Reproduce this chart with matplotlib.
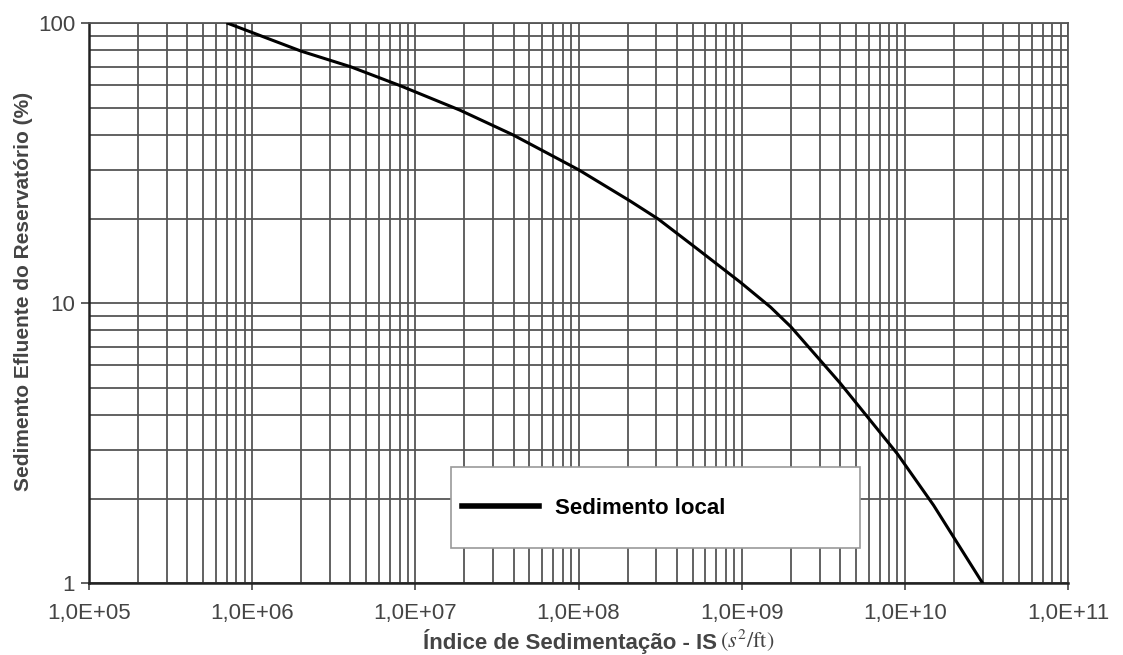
import numpy as np
import matplotlib
matplotlib.use("Agg")
import matplotlib.pyplot as plt
from matplotlib.ticker import LogLocator, FixedLocator, FuncFormatter, NullFormatter
from matplotlib.legend_handler import HandlerLine2D

# curve (IS in s2/ft, effluent sediment in %)
indice_is = [7.1e5, 2.0e6, 3.0e6, 4.0e6, 8.0e6, 1.87e7, 3.95e7, 1.0e8,
             2.07e8, 3.08e8, 5.3e8, 9.8e8, 1.5e9, 2.0e9, 4.0e9, 9.0e9,
             1.5e10, 3.0e10]
sedimento = [100, 79.5, 73.8, 70, 60, 49, 40, 30,
             23.2, 20, 15.7, 11.9, 9.7, 8.25, 5.2, 2.9,
             1.9, 1.0]
serie_label = "Sedimento local"

x_ticks = [1e5, 1e6, 1e7, 1e8, 1e9, 1e10, 1e11]
y_ticks = [1, 10, 100]


class LowerLine(HandlerLine2D):
    # tall legend row: put the handle line level with the label text
    def create_artists(self, legend, orig_handle, xdescent, ydescent,
                       width, height, fontsize, trans):
        arts = super().create_artists(legend, orig_handle, xdescent, ydescent,
                                      width, height, fontsize, trans)
        for a in arts:
            a.set_ydata(np.asarray(a.get_ydata()) - 0.45 * fontsize)
            a.set_linewidth(4)
        return arts


plt.rcParams['font.family'] = ['Liberation Sans', 'DejaVu Sans']

fig = plt.figure(figsize=(11.23, 6.55), dpi=100)
ax = fig.add_axes([0.0793, 0.1095, 0.8717, 0.8549])

line, = ax.plot(indice_is, sedimento, color='black', lw=2.2, label=serie_label, zorder=3)

ax.set_xscale('log')
ax.set_yscale('log')
ax.set_xlim(1e5, 1e11)
ax.set_ylim(1, 100)

ax.xaxis.set_major_locator(FixedLocator(x_ticks))
ax.yaxis.set_major_locator(FixedLocator(y_ticks))
ax.xaxis.set_minor_locator(LogLocator(base=10, subs=np.arange(2, 10), numticks=100))
ax.yaxis.set_minor_locator(LogLocator(base=10, subs=np.arange(2, 10), numticks=100))
ax.xaxis.set_minor_formatter(NullFormatter())
ax.yaxis.set_minor_formatter(NullFormatter())
ax.xaxis.set_major_formatter(FuncFormatter(lambda v, p: "1,0E+%02d" % round(np.log10(v))))
ax.yaxis.set_major_formatter(FuncFormatter(lambda v, p: "%d" % round(v)))

ax.grid(True, which='both', color='#555555', lw=1.3, zorder=1)
ax.set_axisbelow(True)
for s in ['top', 'right']:
    ax.spines[s].set_color('#555555')
    ax.spines[s].set_linewidth(1.3)
for s in ['left', 'bottom']:
    ax.spines[s].set_color('#222222')
    ax.spines[s].set_linewidth(1.8)

ax.tick_params(axis='x', which='major', length=5, width=1.2, pad=9,
               labelsize=16, labelcolor='#444444', color='#444444')
ax.tick_params(axis='y', which='major', length=6, width=1.2, pad=4,
               labelsize=16, labelcolor='#444444', color='#444444')
ax.tick_params(which='minor', length=0)

ax.set_ylabel("Sedimento Efluente do Reservatório (%)", fontsize=15,
              fontweight='bold', color='#444444')
ax.yaxis.set_label_coords(-0.057, 0.522)

fig.text(717 / 1123, 1 - 641 / 655, "Índice de Sedimentação - IS", ha='right', va='center',
         fontsize=16, fontweight='bold', color='#444444')
fig.text(720 / 1123, 1 - 640 / 655, r"$(s^2/\mathrm{ft})$", ha='left', va='center',
         fontsize=16, color='#444444', math_fontfamily='stix')

leg = ax.legend(loc='upper left', bbox_to_anchor=(0.370, 0.0595, 0.4175, 0.148),
                mode='expand', borderaxespad=0, fancybox=False, framealpha=1,
                edgecolor='#999999', handlelength=3.45, handleheight=3.7,
                borderpad=0.5, handletextpad=0.7, prop={'size': 16, 'weight': 'bold'},
                handler_map={line: LowerLine()})
leg.get_frame().set_linewidth(1.2)
leg.set_zorder(5)

fig.savefig("out.png", dpi=100)
